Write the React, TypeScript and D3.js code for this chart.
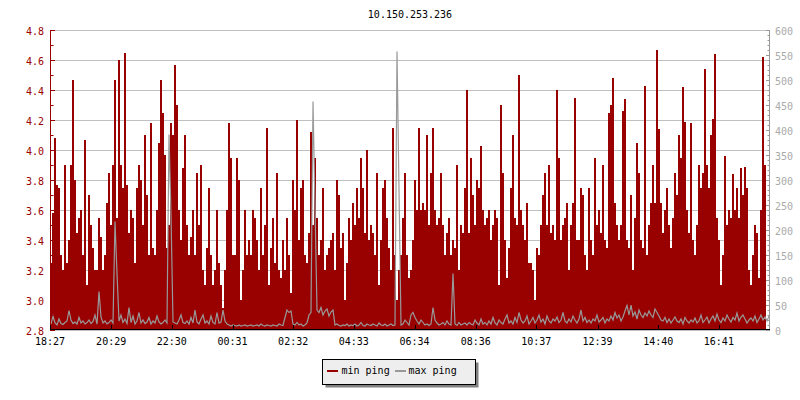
import React from 'react';
import * as d3 from 'd3';

const TITLE = '10.150.253.236';
const START_LABEL = '18:27';
const SPAN_MINUTES = 1436;
const SLOT_COUNT = 360;
const X_TICK_LABELS = ['18:27', '20:29', '22:30', '00:31', '02:32', '04:33', '06:34', '08:36', '10:37', '12:39', '14:40', '16:41'];
const LEFT_TICKS = [2.8, 3.0, 3.2, 3.4, 3.6, 3.8, 4.0, 4.2, 4.4, 4.6, 4.8];
const RIGHT_TICKS = [0, 50, 100, 150, 200, 250, 300, 350, 400, 450, 500, 550, 600];
const SERIES_NAMES = ['min ping', 'max ping'];

// min ping (left axis), one value per slot
const MIN_PING = [
  3.25, 3.58, 4.08, 3.77, 3.75, 3.3, 3.2, 3.9, 3.25, 3.4,
  3.9, 4.47, 3.8, 3.45, 3.55, 3.6, 3.3, 4.07, 3.1, 3.7,
  3.5, 3.35, 3.2, 3.2, 3.55, 3.42, 3.2, 3.3, 3.65, 3.85,
  3.5, 3.9, 4.47, 3.55, 4.6, 3.9, 3.75, 4.65, 3.77, 3.45,
  3.6, 3.55, 3.25, 3.75, 3.9, 3.8, 3.5, 4.1, 3.7, 3.3,
  4.18, 3.35, 3.3, 3.6, 4.05, 4.47, 4.25, 3.97, 3.35, 3.5,
  4.18, 4.1, 4.57, 4.3, 3.6, 3.4, 3.88, 4.1, 3.5, 3.3,
  3.42, 3.6, 3.3, 3.85, 3.5, 3.9, 3.2, 3.1, 3.35, 3.75,
  3.3, 3.1, 3.2, 3.6, 3.25, 3.1, 2.95, 3.2, 3.6, 4.18,
  3.95, 3.3, 3.3, 3.95, 3.8, 3.0, 3.2, 3.6, 3.3, 3.4,
  3.3, 3.6, 3.55, 3.4, 3.2, 3.75, 3.3, 3.5, 4.15, 3.1,
  3.35, 3.55, 3.25, 3.85, 3.2, 3.15, 3.4, 3.2, 3.55, 3.3,
  3.05, 3.8, 3.6, 4.2, 3.4, 3.75, 3.8, 3.3, 3.25, 3.45,
  4.12, 3.5, 3.95, 3.55, 3.3, 3.4, 3.75, 3.2, 3.3, 3.35,
  3.4, 3.45, 3.2, 3.8, 3.7, 3.35, 3.45, 3.0, 3.25, 3.55,
  3.4, 3.65, 3.5, 3.75, 3.55, 3.95, 3.75, 3.45, 4.0, 3.4,
  3.5, 3.45, 3.3, 3.85, 3.1, 3.4, 3.75, 3.8, 3.55, 3.35,
  3.2, 4.15, 3.3, 3.0, 3.2, 3.3, 3.55, 3.85, 3.3, 3.15,
  3.2, 3.4, 3.8, 3.6, 4.15, 3.6, 3.65, 3.6, 4.1, 3.5,
  3.85, 4.15, 3.6, 3.5, 3.55, 3.85, 3.5, 3.3, 3.45, 3.55,
  3.3, 3.4, 3.35, 3.9, 3.2, 3.5, 3.45, 3.75, 4.4, 3.45,
  3.95, 3.7, 3.5, 3.8, 3.75, 4.03, 3.6, 3.5, 3.55, 3.6,
  3.4, 3.5, 3.6, 3.55, 3.1, 4.3, 3.85, 3.4, 3.15, 3.35,
  3.75, 4.1, 3.55, 3.5, 4.5, 3.6, 3.5, 3.4, 3.65, 3.25,
  3.25, 3.2, 3.0, 3.35, 3.3, 3.5, 3.7, 3.85, 3.5, 3.9,
  3.45, 3.5, 3.4, 4.4, 3.95, 3.4, 3.5, 3.55, 3.65, 3.2,
  3.5, 3.65, 4.35, 3.4, 3.4, 3.75, 3.7, 3.3, 3.2, 3.75,
  3.4, 3.3, 3.95, 3.5, 3.6, 3.45, 3.9, 3.4, 3.35, 4.25,
  4.3, 4.48, 3.65, 3.5, 3.4, 3.5, 4.26, 4.34, 3.4, 3.35,
  3.7, 3.2, 3.55, 4.05, 3.85, 3.4, 3.35, 4.43, 3.3, 3.5,
  3.65, 3.9, 3.65, 4.67, 4.14, 3.65, 3.45, 3.6, 3.75, 3.5,
  3.35, 3.55, 3.85, 3.7, 4.1, 3.95, 4.42, 4.19, 3.6, 3.45,
  4.18, 3.4, 3.3, 3.5, 3.9, 3.75, 3.85, 4.54, 3.9, 3.75,
  4.1, 4.21, 4.64, 3.55, 3.4, 3.1, 3.3, 3.96, 3.5, 3.6,
  3.55, 3.84, 3.6, 3.75, 3.55, 3.88, 3.7, 3.89, 3.75, 3.2,
  3.1, 3.3, 3.5, 3.45, 3.15, 3.6, 4.62, 3.9,
];

// max ping (right axis), one value per slot
const MAX_PING = [
  12, 28, 14, 10, 22, 13, 11, 15, 18, 39,
  20, 13, 16, 12, 25, 14, 18, 12, 15, 20,
  13, 17, 30, 12, 77, 26, 14, 18, 12, 15,
  20, 14, 217, 113, 18, 30, 15, 22, 13, 45,
  15, 28, 12, 18, 35, 14, 20, 13, 16, 25,
  12, 18, 14, 28, 16, 12, 15, 20, 14, 391,
  230, 16, 14, 12, 20, 30, 15, 13, 18, 12,
  25, 14, 40, 16, 12, 22, 30, 14, 18, 12,
  28, 15, 12, 35, 14, 16, 40, 18, 12, 10,
  8, 10, 9, 8, 10, 8, 9, 10, 8, 9,
  10, 8, 9, 10, 8, 12, 9, 8, 10, 9,
  8, 10, 9, 8, 12, 10, 9, 25, 40, 35,
  38, 12, 10, 15, 10, 12, 8, 10, 14, 30,
  35, 457, 247, 40, 35, 45, 30, 38, 42, 28,
  36, 40, 10, 12, 9, 8, 10, 9, 12, 8,
  10, 9, 12, 8, 10, 15, 9, 8, 12, 10,
  9, 12, 10, 8, 14, 10, 9, 12, 8, 10,
  12, 9, 10, 557, 281, 10, 12, 20, 15, 10,
  30, 35, 25, 18, 12, 20, 15, 10, 12, 9,
  12, 45, 20, 14, 10, 12, 15, 10, 18, 12,
  10, 113, 12, 9, 15, 10, 12, 14, 10, 15,
  12, 10, 20, 14, 10, 22, 12, 15, 10, 18,
  12, 25, 14, 10, 20, 15, 12, 22, 30, 14,
  18, 12, 25, 15, 35, 20, 14, 18, 28, 12,
  18, 25, 14, 20, 30, 16, 22, 12, 28, 18,
  14, 22, 18, 26, 15, 20, 35, 18, 14, 22,
  16, 28, 20, 14, 22, 40, 18, 25, 15, 20,
  14, 22, 18, 30, 16, 20, 25, 14, 22, 18,
  28, 20, 35, 24, 30, 18, 26, 38, 49, 30,
  50, 28, 36, 22, 40, 30, 25, 34, 28, 38,
  30, 25, 42, 35, 28, 20, 18, 25, 15, 22,
  14, 20, 26, 18, 15, 22, 12, 25, 18, 14,
  20, 16, 24, 14, 18, 30, 15, 20, 26, 14,
  22, 28, 18, 32, 20, 15, 24, 18, 30, 22,
  16, 25, 20, 34, 18, 26, 30, 22, 14, 20,
  24, 18, 28, 15, 22, 30, 20, 26, 18, 28,
];

const RED = '#990000';
const GRAY = '#999999';
const FONT = '"DejaVu Sans Mono", monospace';

const toMinutes = (s: string) => {
  const [h, m] = s.split(':').map(Number);
  return h * 60 + m;
};

export default function App() {
  const L = 50, R = 770, T = 30, B = 330;
  const startMin = toMinutes(START_LABEL);
  const rel = (s: string) => {
    let d = toMinutes(s) - startMin;
    if (d < 0) d += 1440;
    return d;
  };
  const x = d3.scaleLinear().domain([0, SPAN_MINUTES]).range([L, R]);
  const slot = SPAN_MINUTES / SLOT_COUNT;
  const yL = d3.scaleLinear().domain([2.8, 4.8]).range([B, T]);
  const yR = d3.scaleLinear().domain([0, 600]).range([B, T]);

  const minPts: [number, number][] = MIN_PING.map((v, i) => [i * slot, v]);
  minPts.push([MIN_PING.length * slot, MIN_PING[MIN_PING.length - 1]]);
  const maxPts: [number, number][] = MAX_PING.map((v, i) => [(i + 0.5) * slot, v]);

  const area = d3
    .area<[number, number]>()
    .x((d) => x(d[0]))
    .y0(yL(2.8))
    .y1((d) => yL(d[1]))
    .curve(d3.curveStepAfter);
  const line = d3
    .line<[number, number]>()
    .x((d) => x(d[0]))
    .y((d) => yR(d[1]))
    .curve(d3.curveLinear);

  const leftMinor = d3.range(28, 49).map((v) => v / 10);
  const rightMinor = d3.range(0, 601, 10);

  return (
    <svg width={800} height={400} style={{ position: 'absolute', left: 0, top: 0, background: '#fff' }}>
      <rect x={0} y={0} width={800} height={400} fill="#fff" />
      <text x={(L + R) / 2} y={17.5} textAnchor="middle" fontFamily={FONT} fontSize={10} fill="#000">
        {TITLE}
      </text>
      {/* grid */}
      {LEFT_TICKS.map((v) => (
        <line key={'g' + v} x1={L} x2={R} y1={Math.round(yL(v)) + 0.5} y2={Math.round(yL(v)) + 0.5} stroke="#c0c0c0" strokeWidth={1} />
      ))}
      {/* data */}
      <path d={area(minPts) || ''} fill={RED} shapeRendering="crispEdges" />
      <path d={line(maxPts) || ''} fill="none" stroke={GRAY} strokeWidth={1.2} strokeLinejoin="miter" />
      {/* left axis */}
      <line x1={L + 0.5} x2={L + 0.5} y1={T} y2={B} stroke={RED} strokeWidth={1} />
      {leftMinor.map((v) => {
        const major = Math.round(v * 10) % 2 === 0;
        const yy = Math.round(yL(v)) + 0.5;
        return <line key={'lt' + v} x1={L} x2={L + (major ? 5 : 3.5)} y1={yy} y2={yy} stroke={RED} strokeWidth={1} />;
      })}
      {LEFT_TICKS.map((v) => (
        <text key={'ll' + v} x={44} y={yL(v) + 5} textAnchor="end" fontFamily={FONT} fontSize={10} fill={RED}>
          {v.toFixed(1)}
        </text>
      ))}
      {/* right axis */}
      <line x1={R - 0.5} x2={R - 0.5} y1={T} y2={B} stroke={GRAY} strokeWidth={1} />
      {rightMinor.map((v) => {
        const major = v % 50 === 0;
        const yy = Math.round(yR(v)) + 0.5;
        return <line key={'rt' + v} x1={R - (major ? 4 : 2.5)} x2={R} y1={yy} y2={yy} stroke={GRAY} strokeWidth={1} />;
      })}
      {RIGHT_TICKS.map((v) => (
        <text key={'rl' + v} x={775} y={yR(v) + 5} textAnchor="start" fontFamily={FONT} fontSize={10} fill="#aaaaaa">
          {v}
        </text>
      ))}
      {/* bottom axis */}
      <line x1={L} x2={R} y1={B - 0.5} y2={B - 0.5} stroke="#000" strokeWidth={1} />
      {X_TICK_LABELS.map((s) => {
        const xx = Math.round(x(rel(s))) + 0.5;
        return (
          <g key={'xt' + s}>
            <line x1={xx} x2={xx} y1={B - 5} y2={B} stroke="#000" strokeWidth={1} />
            <text x={x(rel(s))} y={344.5} textAnchor="middle" fontFamily={FONT} fontSize={10} fill="#000">
              {s}
            </text>
          </g>
        );
      })}
      {/* legend */}
      <rect x={325.5} y={362.5} width={153} height={25} fill="#808080" />
      <rect x={322.5} y={359.5} width={153} height={25} fill="#eeeeee" stroke="#000" strokeWidth={1} />
      <line x1={327} x2={338} y1={371} y2={371} stroke={RED} strokeWidth={2} />
      <text x={341.5} y={373.5} fontFamily={FONT} fontSize={10} fill="#000">
        {SERIES_NAMES[0]}
      </text>
      <line x1={395} x2={406} y1={371} y2={371} stroke={GRAY} strokeWidth={2} />
      <text x={408.5} y={373.5} fontFamily={FONT} fontSize={10} fill="#000">
        {SERIES_NAMES[1]}
      </text>
    </svg>
  );
}
